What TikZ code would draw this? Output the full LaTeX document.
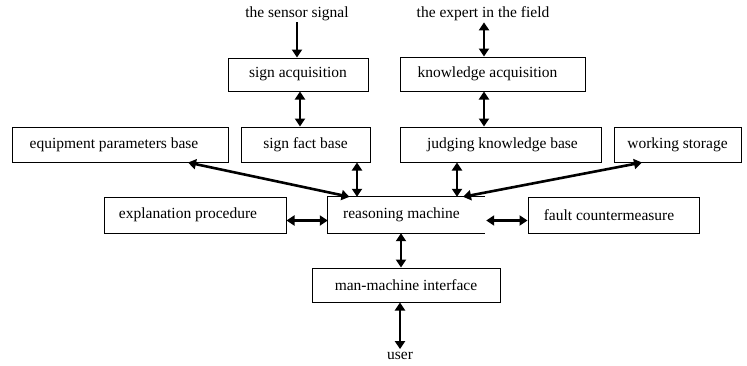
\documentclass[tikz,border=0pt]{standalone}
\usepackage{fontspec}
\setmainfont{Liberation Serif}
\usetikzlibrary{arrows.meta,calc}
\begin{document}
\begin{tikzpicture}[x=1pt,y=-1pt,
  box/.style={draw, line width=1pt, inner sep=0pt, font=\fontsize{15.5}{18}\selectfont},
  lbl/.style={inner sep=1pt, font=\fontsize{15.5}{18}\selectfont},
  arr/.style={line width=2.6pt, -{Triangle[length=8pt,width=10pt]}},
  darr/.style={line width=2.6pt, {Triangle[length=8pt,width=10pt]}-{Triangle[length=8pt,width=10pt]}}
]
\useasboundingbox (0,0) rectangle (747,365);
\fill[white] (0,0) rectangle (747,365);
% boxes
\node[box, minimum width=140pt, minimum height=33pt] (sa) at (298,74.5) {sign acquisition};
\node[box, minimum width=129pt, minimum height=35pt] (sfb) at (305.5,144.5) {sign fact base};
\node[box, minimum width=216pt, minimum height=35pt] (epb) at (120,144.5) {\hspace*{-12pt}equipment parameters base};
\node[box, minimum width=185pt, minimum height=34pt] (ka) at (492.5,74) {\hspace*{-10pt}knowledge acquisition};
\node[box, minimum width=201pt, minimum height=35pt] (jkb) at (500.5,144.5) {\hspace*{4pt}judging knowledge base};
\node[box, minimum width=127pt, minimum height=35pt] (ws) at (677.5,144.5) {working storage};
\node[box, minimum width=182pt, minimum height=36pt] (ep) at (195,215) {\hspace*{-14pt}explanation procedure};
\node[inner sep=0pt, minimum width=157pt, minimum height=36pt, font=\fontsize{15.5}{18}\selectfont] (rm) at (406.5,215) {\hspace*{-10pt}reasoning machine};
\draw[line width=1pt] (rm.north east) -- (rm.north west) -- (rm.south west) -- (rm.south east);
\node[box, minimum width=171pt, minimum height=36pt] (fc) at (613.5,215) {\hspace*{-9pt}fault countermeasure};
\node[box, minimum width=188pt, minimum height=34pt] (mmi) at (406,285) {man-machine interface};
% free texts
\node[lbl] (sensor) at (297,14) {the sensor signal};
\node[lbl] (expert) at (483,14) {the expert in the field};
\node[lbl] (user) at (400,356) {user};
% connectors
\draw[arr] (sensor.south) -- (sensor.south |- sa.north);
\draw[darr] ($(expert.south)+(1,0)$) -- ($(expert.south |- ka.north)+(1,0)$);
\draw[darr] ($(sa.south)+(2,0)$) -- ($(sa.south |- sfb.north)+(2,0)$);
\draw[darr] ($(ka.south)+(-8.5,0)$) -- ($(ka.south |- jkb.north)+(-8.5,0)$);
\draw[darr] ($(epb.south)+(68,0)$) -- ($(rm.north)+(-57,0)$);
\draw[darr] ($(sfb.south)+(51.5,0)$) -- ($(sfb.south |- rm.north)+(51.5,0)$);
\draw[darr] ($(jkb.south)+(-43.5,0)$) -- ($(jkb.south |- rm.north)+(-43.5,0)$);
\draw[darr] ($(ws.south)+(-35.5,0)$) -- ($(rm.north)+(56.5,0)$);
\draw[darr] ($(ep.east)+(0,5.5)$) -- ($(rm.west)+(0,5.5)$);
\draw[darr] ($(rm.east)+(1,5.5)$) -- ($(fc.west)+(0,5.5)$);
\draw[darr] ($(rm.south)+(-5.5,0)$) -- ($(rm.south |- mmi.north)+(-5.5,0)$);
\draw[darr] ($(mmi.south)+(-6,0)$) -- ($(user.north)+(0,-2)$);
\end{tikzpicture}
\end{document}
